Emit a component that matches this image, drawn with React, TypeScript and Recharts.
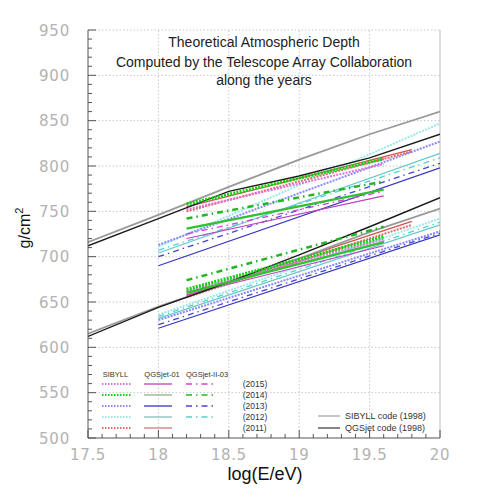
import React from 'react';
import { LineChart, Line, XAxis, YAxis, ReferenceLine } from 'recharts';

// ---- axis ticks ----
const xMajorTicks = [17.5, 18, 18.5, 19, 19.5, 20];
const yMajorTicks = [500, 550, 600, 650, 700, 750, 800, 850, 900, 950];

// ---- 1998 reference curves ----
const refEnergies = [17.5, 18, 18.5, 19, 19.5, 20];
const sibyll1998Proton = [716, 746, 777, 807, 835, 860];
const qgsjet1998Proton = [712, 742, 772, 789, 809, 835];
const sibyll1998Iron = [615, 645, 671, 698, 727, 753];
const qgsjet1998Iron = [612, 644, 672, 702, 733, 765];

// ---- yearly TA predictions (order: 2015, 2014, 2013, 2012, 2011) ----
const years = ['2015', '2014', '2013', '2012', '2011'];
const yearStartE = [18.2, 18.2, 18.0, 18.0, 18.2];
const yearEndE = [19.6, 19.6, 20.0, 20.0, 19.8];

const sibyllProton = [[752, 802], [758, 808], [713, 827], [711, 847], [750, 816]];
const sibyllIron = [[662, 719], [664, 722], [630, 728], [636, 742], [655, 735]];
const qgs01Proton = [[720, 767], [731, 774], [690, 798], [704, 814], [755, 818]];
const qgs01Iron = [[658, 712], [660, 716], [621, 724], [632, 735], [657, 739]];
const qgs2Proton = [[725, 772], [742, 783], [700, 803], [707, 809]];
const qgs2Iron = [[661, 716], [674, 733], [625, 726], [634, 738]];

const sibyllColors = ['#e070e0', '#10d010', '#8888ff', '#99e8e8', '#e06a6a'];
const qgs01Colors = ['#c040c0', '#30c030', '#3535c0', '#66c8c8', '#d05050'];
const qgs01LegendColors = ['#c040c0', '#8fb08f', '#3535c0', '#88bcbc', '#d07a7a'];
const qgs2Colors = ['#d040d0', '#20b820', '#4545d0', '#55d0d0'];

const toPts = (xs: number[], ys: number[]) => xs.map((x, i) => ({ x, y: ys[i] }));
const seg = (i: number, v: number[]) => [
  { x: yearStartE[i], y: v[0] },
  { x: yearEndE[i], y: v[1] },
];

const isMajor = (list: number[], v: number) => list.some((t) => Math.abs(t - v) < 1e-6);

const xMinorTicks: number[] = [];
for (let i = 0; i <= 25; i++) xMinorTicks.push(Math.round((17.5 + i * 0.1) * 10) / 10);
const yMinorTicks: number[] = [];
for (let v = 500; v <= 950; v += 10) yMinorTicks.push(v);

const numFont = '"DejaVu Sans", sans-serif';
const txtFont = '"Liberation Sans", Arial, sans-serif';
const tickLabelColor = '#b2b2b2';

const XTick = (props: any) => {
  const { x, y, payload } = props;
  const v = payload.value;
  const major = isMajor(xMajorTicks, v);
  return (
    <g>
      <line x1={x} x2={x} y1={y} y2={y - (major ? 8 : 4)} stroke="#555" strokeWidth={1} />
      {major && (
        <text x={x} y={y + 22} textAnchor="middle" fill={tickLabelColor} fontSize={15} fontFamily={numFont} letterSpacing={0.6}>
          {String(v)}
        </text>
      )}
    </g>
  );
};

const YTick = (props: any) => {
  const { x, y, payload } = props;
  const v = payload.value;
  const major = isMajor(yMajorTicks, v);
  return (
    <g>
      <line x1={x} x2={x + (major ? 8 : 4)} y1={y} y2={y} stroke="#555" strokeWidth={1} />
      {major && (
        <text x={x - 18} y={y + 5.5} textAnchor="end" fill={tickLabelColor} fontSize={15} fontFamily={numFont} letterSpacing={0.8}>
          {String(v)}
        </text>
      )}
    </g>
  );
};

const sibDash = '2 1.2';
const q2Dash = '6 4 1.5 4';

function yearLines(i: number): React.ReactNode[] {
  const green = i === 1;
  const out: React.ReactNode[] = [
    <Line key={`sp-${i}`} data={seg(i, sibyllProton[i])} dataKey="y" dot={false} activeDot={false}
      stroke={sibyllColors[i]} strokeWidth={green ? 3.2 : 2} strokeDasharray={sibDash} isAnimationActive={false} />,
    <Line key={`si-${i}`} data={seg(i, sibyllIron[i])} dataKey="y" dot={false} activeDot={false}
      stroke={sibyllColors[i]} strokeWidth={green ? 3.2 : 2} strokeDasharray={sibDash} isAnimationActive={false} />,
    <Line key={`qp-${i}`} data={seg(i, qgs01Proton[i])} dataKey="y" dot={false} activeDot={false}
      stroke={qgs01Colors[i]} strokeWidth={green ? 2.2 : 1.2} isAnimationActive={false} />,
    <Line key={`qi-${i}`} data={seg(i, qgs01Iron[i])} dataKey="y" dot={false} activeDot={false}
      stroke={qgs01Colors[i]} strokeWidth={green ? 2.2 : 1.2} isAnimationActive={false} />,
  ];
  if (i < qgs2Proton.length) {
    out.push(
      <Line key={`2p-${i}`} data={seg(i, qgs2Proton[i])} dataKey="y" dot={false} activeDot={false}
        stroke={qgs2Colors[i]} strokeWidth={green ? 2.5 : 1.3} strokeDasharray={q2Dash} isAnimationActive={false} />,
      <Line key={`2i-${i}`} data={seg(i, qgs2Iron[i])} dataKey="y" dot={false} activeDot={false}
        stroke={qgs2Colors[i]} strokeWidth={green ? 2.5 : 1.3} strokeDasharray={q2Dash} isAnimationActive={false} />
    );
  }
  return out;
}

export default function App() {
  const W = 490;
  const H = 490;
  const legendRowY = [376, 387, 398, 409, 420];

  return (
    <div style={{ position: 'relative', width: W, height: H }}>
      <LineChart width={W} height={H} margin={{ top: 22, right: 58, bottom: 30, left: 40 }}>
        <XAxis type="number" dataKey="x" domain={[17.5, 20]} allowDataOverflow ticks={xMinorTicks} interval={0}
          tickSize={0} tickMargin={0} tickLine={false} tick={<XTick />} height={30}
          axisLine={{ stroke: '#555', strokeWidth: 1 }} />
        <YAxis type="number" domain={[500, 950]} allowDataOverflow ticks={yMinorTicks} interval={0}
          tickSize={0} tickMargin={0} tickLine={false} tick={<YTick />} width={40}
          axisLine={{ stroke: '#555', strokeWidth: 1 }} />
        {yMajorTicks.slice(1).map((v) => (
          <ReferenceLine key={`gy${v}`} y={v} stroke="#c8c8c8" strokeDasharray="1.5 2" />
        ))}
        {xMajorTicks.slice(1, -1).map((v) => (
          <ReferenceLine key={`gx${v}`} x={v} stroke="#c8c8c8" strokeDasharray="1.5 2" />
        ))}
        <ReferenceLine x={20} stroke="#b8b8b8" strokeWidth={1} />
        {[3, 2, 4, 0].flatMap((i) => yearLines(i))}
        <Line data={toPts(refEnergies, sibyll1998Proton)} dataKey="y" dot={false} activeDot={false} stroke="#999" strokeWidth={1.8} isAnimationActive={false} />
        <Line data={toPts(refEnergies, sibyll1998Iron)} dataKey="y" dot={false} activeDot={false} stroke="#999" strokeWidth={1.8} isAnimationActive={false} />
        <Line data={toPts(refEnergies, qgsjet1998Proton)} dataKey="y" dot={false} activeDot={false} stroke="#1a1a1a" strokeWidth={1.4} isAnimationActive={false} />
        <Line data={toPts(refEnergies, qgsjet1998Iron)} dataKey="y" dot={false} activeDot={false} stroke="#1a1a1a" strokeWidth={1.4} isAnimationActive={false} />
        {yearLines(1)}
      </LineChart>
      <svg width={W} height={H} style={{ position: 'absolute', left: 0, top: 0, pointerEvents: 'none' }}>
        <g fontFamily={txtFont} fill="#222" textAnchor="middle" fontSize={14}>
          <text x={256} y={39.3}>Theoretical Atmospheric Depth</text>
          <text x={256} y={58.5}>Computed by the Telescope Array Collaboration</text>
          <text x={256} y={77}>along the years</text>
        </g>
        <text x={257} y={472} textAnchor="middle" fontFamily={txtFont} fontSize={18} fill="#111">log(E/eV)</text>
        <text x={22} y={220} textAnchor="middle" fontFamily={txtFont} fontSize={16} fill="#111" transform="rotate(-90 22 220)">
          g/cm<tspan dy={-7} fontSize={11}>2</tspan>
        </text>
        <g fontFamily={txtFont} fontSize={7.5} fill="#333">
          <text x={94.7} y={368.5}>SIBYLL</text>
          <text x={136.3} y={368.5}>QGSjet-01</text>
          <text x={178} y={368.5}>QGSjet-II-03</text>
        </g>
        {years.map((yr, i) => (
          <g key={yr}>
            <line x1={94} x2={124} y1={legendRowY[i]} y2={legendRowY[i]} stroke={sibyllColors[i]} strokeWidth={2} strokeDasharray="1.5 1.5" />
            <line x1={136} x2={164} y1={legendRowY[i]} y2={legendRowY[i]} stroke={qgs01LegendColors[i]} strokeWidth={1.3} />
            {i < qgs2Colors.length && (
              <line x1={178} x2={205} y1={legendRowY[i]} y2={legendRowY[i]} stroke={qgs2Colors[i]} strokeWidth={1.4} strokeDasharray="6 4 1.5 4" />
            )}
            <text x={234.7} y={legendRowY[i] + 3} fontFamily={txtFont} fontSize={8.5} fill="#333">({yr})</text>
          </g>
        ))}
        <line x1={310} x2={332} y1={408} y2={408} stroke="#b8b8b8" strokeWidth={1.6} />
        <line x1={310} x2={332} y1={420} y2={420} stroke="#666" strokeWidth={1.6} />
        <g fontFamily={txtFont} fontSize={9} fill="#333">
          <text x={337} y={411}>SIBYLL code (1998)</text>
          <text x={337} y={423}>QGSjet code (1998)</text>
        </g>
      </svg>
    </div>
  );
}
